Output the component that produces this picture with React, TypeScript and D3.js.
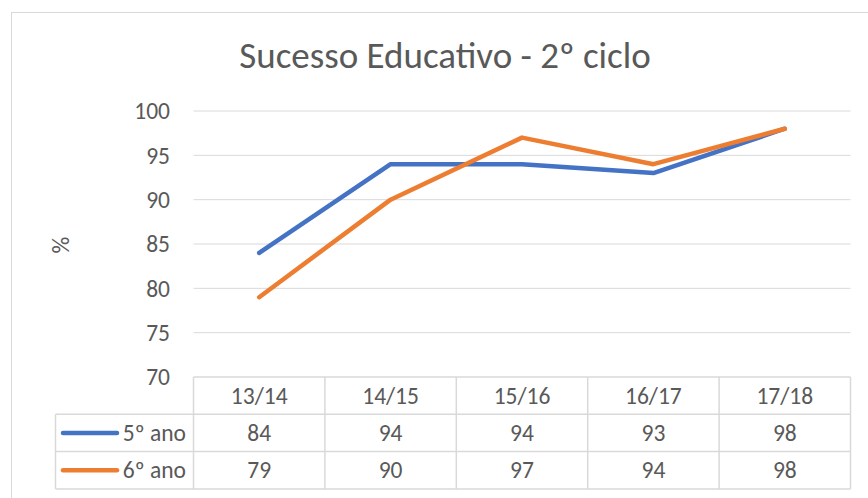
import { scaleBand, scaleLinear, line } from "d3"

const categories = ["13/14", "14/15", "15/16", "16/17", "17/18"]
const seriesNames = ["5º ano", "6º ano"]
const ano5 = [84, 94, 94, 93, 98]
const ano6 = [79, 90, 97, 94, 98]
const yTicks = [70, 75, 80, 85, 90, 95, 100]
const colors = ["#4472C4", "#ED7D31"]

const font = "Carlito, Calibri, 'Open Sans', sans-serif"
const textColor = "#595959"
const gridColor = "#d9d9d9"

export default function App() {
  const W = 868
  const H = 498
  const plot = { left: 193.5, right: 850.5, top: 111, bottom: 377 }
  const tableLeft = 55.5
  const rowH = 37.3
  const fs = 23.5

  const x = scaleBand().domain(categories).range([plot.left, plot.right])
  const y = scaleLinear().domain([70, 100]).range([plot.bottom, plot.top])
  const cx = (c: string) => (x(c) as number) + x.bandwidth() / 2

  const series = [ano5, ano6]
  const gen = line<number>()
    .x((_, i) => cx(categories[i]))
    .y((d) => y(d))

  const rowTop = (r: number) => plot.bottom + r * rowH

  return (
    <svg width={W} height={H} style={{ position: "absolute", left: 0, top: 0 }}>
      <rect x={0} y={0} width={W} height={H} fill="#fff" />
      <rect x={11.5} y={12.5} width={W + 20} height={H + 20} fill="#fff" stroke={gridColor} strokeWidth={1} />
      <text x={445} y={68} textAnchor="middle" fontFamily={font} fontSize={37} fill={textColor}>
        Sucesso Educativo - 2º ciclo
      </text>
      {yTicks.map((t) => (
        <g key={t}>
          {t > 70 && (
            <line x1={plot.left} x2={plot.right} y1={y(t)} y2={y(t)} stroke={gridColor} strokeWidth={1} />
          )}
          <text x={170} y={y(t)} dy="0.35em" textAnchor="end" fontFamily={font} fontSize={fs} fill={textColor}>
            {t}
          </text>
        </g>
      ))}
      <text
        transform={`translate(69,245) rotate(-90)`}
        textAnchor="middle"
        fontFamily={font}
        fontSize={fs}
        fill={textColor}
      >
        %
      </text>
      {/* data table */}
      <g stroke={gridColor} strokeWidth={1.5} fill="none">
        <line x1={plot.left} x2={plot.right} y1={rowTop(0)} y2={rowTop(0)} />
        {[1, 2, 3].map((r) => (
          <line key={r} x1={tableLeft} x2={plot.right} y1={rowTop(r)} y2={rowTop(r)} />
        ))}
        <line x1={tableLeft} x2={tableLeft} y1={rowTop(1)} y2={rowTop(3)} />
        {categories.map((c) => (
          <line key={c} x1={x(c) as number} x2={x(c) as number} y1={rowTop(0)} y2={rowTop(3)} />
        ))}
        <line x1={plot.right} x2={plot.right} y1={rowTop(0)} y2={rowTop(3)} />
      </g>
      {categories.map((c) => (
        <text key={c} x={cx(c)} y={rowTop(0) + rowH / 2} dy="0.35em" textAnchor="middle" fontFamily={font} fontSize={fs} fill={textColor}>
          {c}
        </text>
      ))}
      {series.map((s, si) => (
        <g key={si}>
          <line
            x1={63}
            x2={117}
            y1={rowTop(si + 1) + rowH / 2}
            y2={rowTop(si + 1) + rowH / 2}
            stroke={colors[si]}
            strokeWidth={4.5}
            strokeLinecap="round"
          />
          <text x={186} y={rowTop(si + 1) + rowH / 2} dy="0.35em" textAnchor="end" fontFamily={font} fontSize={fs} fill={textColor}>
            {seriesNames[si]}
          </text>
          {s.map((v, i) => (
            <text key={i} x={cx(categories[i])} y={rowTop(si + 1) + rowH / 2} dy="0.35em" textAnchor="middle" fontFamily={font} fontSize={fs} fill={textColor}>
              {v}
            </text>
          ))}
        </g>
      ))}
      {series.map((s, si) => (
        <path
          key={si}
          d={gen(s) || ""}
          fill="none"
          stroke={colors[si]}
          strokeWidth={4.5}
          strokeLinecap="round"
          strokeLinejoin="round"
        />
      ))}
    </svg>
  )
}
